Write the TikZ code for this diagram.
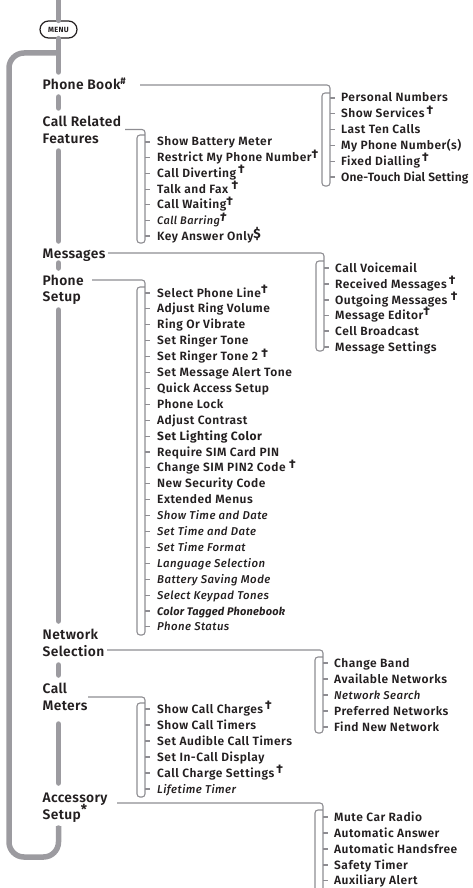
\documentclass[tikz,border=0pt]{standalone}
\usepackage{fontspec}
\setmainfont{Fira Sans}[UprightFont={* SemiBold}, ItalicFont={* Medium Italic}, BoldFont={* Bold}, BoldItalicFont={* Bold Italic}, LetterSpace=4]
\definecolor{trunk}{HTML}{9C9BA0}
\definecolor{lne}{HTML}{8E8D92}
\definecolor{ink}{HTML}{231F20}
\newcommand\dg{\raisebox{0.3em}{\fontsize{12.5}{12}\selectfont\bfseries †}}
\tikzset{
 trunkline/.style={line width=5.5pt, draw=trunk, line cap=round},
 thinline/.style={line width=1.1pt, draw=lne},
 lbl/.style={anchor=base west, inner sep=0, font=\fontsize{13.8}{15}\selectfont\addfontfeature{LetterSpace=2.5}, text=ink},
 itm/.style={anchor=base west, inner sep=0, font=\fontsize{12}{13}\selectfont, text=ink},
 itl/.style={itm, font=\fontsize{11.4}{13}\selectfont\itshape},
 menubox/.style={draw=ink, line width=1.2pt, rounded corners=8.5pt, minimum width=37pt, minimum height=17pt, inner sep=0, font=\fontsize{7.5}{8}\selectfont\bfseries, text=ink},
}
% #1 start coord, #2 yc, #3 xl, #4 xr, #5 yt, #6 yb
\newcommand\brk[6]{\draw[thinline, rounded corners=3pt] (#1) -- (#4,#2) -- (#4,#6) -- (#3,#6) -- (#3,#5) -- (#4,#5);}
\begin{document}
\begin{tikzpicture}[x=1pt,y=-1pt]
\useasboundingbox (0,0) rectangle (473,888);
\clip (0,0) rectangle (473,888);
% trunk
\node[menubox] (menu) at (58.5,29.5) {MENU};
\draw[trunkline] (58.5,-5) -- (menu.north);
\draw[trunkline] (menu.south) -- (58.5,72);
\draw[trunkline, line cap=butt, rounded corners=15pt] (58.5,53) -- (9,53) -- (9,857) -- (58.5,857) -- (58.5,826);
\draw[trunkline] (58.5,97) -- (58.5,108);
\draw[trunkline] (58.5,151) -- (58.5,241);
\draw[trunkline] (58.5,263) -- (58.5,268);
\draw[trunkline] (58.5,310) -- (58.5,621);
\draw[trunkline] (58.5,665) -- (58.5,675);
\draw[trunkline] (58.5,724) -- (58.5,783);
\draw[trunkline] (58.5,828) -- (58.5,830);
% labels
\node[lbl] (pb) at (42.5,89.5) {Phone Book\textsuperscript{\bfseries\#}};
\node[lbl] (cr1) at (42.5,127) {Call Related};
\node[lbl] (cr2) at (42.5,143.5) {Features};
\node[lbl] (msg) at (42.5,258) {Messages};
\node[lbl] (ps1) at (42.5,285) {Phone};
\node[lbl] (ps2) at (42.5,301) {Setup};
\node[lbl] (ns1) at (42.5,639.5) {Network};
\node[lbl] (ns2) at (42.5,656) {Selection};
\node[lbl] (cm1) at (42.5,693.5) {Call};
\node[lbl] (cm2) at (42.5,710.5) {Meters};
\node[lbl] (as1) at (42.5,802) {Accessory};
\node[lbl] (as2) at (42.5,819) {Setup\raisebox{0.35em}{\bfseries *}};
% connector starts
\coordinate (pbc) at (140,85);
\coordinate (crc) at (125,129.5);
\coordinate (msgc) at (108,253);
\coordinate (psc) at (92,280);
\coordinate (nsc) at (107,650);
\coordinate (cmc) at (88,697);
\coordinate (asc) at (117,803);
% Phone Book submenu
\brk{pbc}{85}{322}{330}{93}{186}
\foreach \y/\t [count=\i] in {98/Personal Numbers, 113.8/Show Services\,\dg, 129.6/Last Ten Calls, 145.4/My Phone Number(s), 161.2/Fixed Dialling\,\dg, 177/{\addfontfeature{LetterSpace=1}One-Touch Dial Setting}}{
  \draw[thinline] (330,\y) -- (335,\y);
  \node[itm] (pb\i) at (341,\y+4) {\t};
}
% Call Related submenu
\brk{crc}{129.5}{137}{145}{135}{243}
\foreach \y in {142,157.7,173.4,189.1,204.8,220.5,236}{\draw[thinline] (145,\y) -- (150,\y);}
\node[itm] (cr-a) at (157,146) {Show Battery Meter};
\node[itm] (cr-b) at (157,161.7) {Restrict My Phone Number\dg};
\node[itm] (cr-c) at (157,177.4) {Call Diverting\,\dg};
\node[itm] (cr-d) at (157,193.1) {Talk and Fax \dg};
\node[itm] (cr-e) at (157,208.8) {Call Waiting\dg};
\node[itl] (cr-f) at (157,224.5) {\fontsize{11}{12}\selectfont Call Barring\dg};
\node[itm] (cr-g) at (157,240) {Key Answer Only\raisebox{0.1em}{\fontsize{13.5}{13}\selectfont\bfseries\$}};
% Messages submenu
\brk{msgc}{253}{316}{324}{261}{351}
\foreach \y/\t [count=\i] in {268/Call Voicemail, 284/Received Messages\,\dg, 300/Outgoing Messages \dg, 315.5/Message Editor\dg, 331/Cell Broadcast, 347/Message Settings}{
  \draw[thinline] (324,\y) -- (329,\y);
  \node[itm] (ms\i) at (335,\y+4) {\t};
}
% Phone Setup submenu
\brk{psc}{280}{137}{145}{287}{635}
\foreach \k in {0,...,21}{\draw[thinline] (145,293+15.9*\k) -- (150,293+15.9*\k);}
\foreach \t [count=\i from 0] in {Select Phone Line\dg, Adjust Ring Volume, Ring Or Vibrate, Set Ringer Tone, Set Ringer Tone 2 \dg, Set Message Alert Tone, Quick Access Setup, Phone Lock, Adjust Contrast, {\bfseries Set Lighting Color}, Require SIM Card PIN, Change SIM PIN2 Code \dg, New Security Code, Extended Menus}{
  \node[itm] (ps\i) at (157,297+15.9*\i) {\t};
}
\foreach \t [count=\i from 14] in {Show Time and Date, Set Time and Date, Set Time Format, Language Selection, Battery Saving Mode, Select Keypad Tones, {\bfseries\fontsize{11}{13}\selectfont\addfontfeature{LetterSpace=2}Color Tagged Phonebook}, Phone Status}{
  \node[itl] (ps\i) at (157,297+15.9*\i) {\t};
}
% Network Selection submenu
\brk{nsc}{650}{315}{323}{657}{733}
\foreach \y in {663,679,695,711,727}{\draw[thinline] (323,\y) -- (328,\y);}
\node[itm] (ns-a) at (334,667) {Change Band};
\node[itm] (ns-b) at (334,683) {Available Networks};
\node[itl] (ns-c) at (334,699) {Network Search};
\node[itm] (ns-d) at (334,715) {Preferred Networks};
\node[itm] (ns-e) at (334,731) {Find New Network};
% Call Meters submenu
\brk{cmc}{697}{137}{145}{703}{797}
\foreach \y in {709,725,741,757,773,789}{\draw[thinline] (145,\y) -- (150,\y);}
\node[itm] (cm-a) at (157,713) {Show Call Charges\,\dg};
\node[itm] (cm-b) at (157,729) {Show Call Timers};
\node[itm] (cm-c) at (157,745) {Set Audible Call Timers};
\node[itm] (cm-d) at (157,761) {Set In-Call Display};
\node[itm] (cm-e) at (157,777) {Call Charge Settings\,\dg};
\node[itl] (cm-f) at (157,793) {Lifetime Timer};
% Accessory Setup submenu
\brk{asc}{803}{315}{323}{810}{905}
\foreach \y/\t [count=\i] in {817/Mute Car Radio, 833/Automatic Answer, 849/Automatic Handsfree, 865/Safety Timer, 880.5/Auxiliary Alert}{
  \draw[thinline] (323,\y) -- (328,\y);
  \node[itm] (ac\i) at (334,\y+4) {\t};
}
\end{tikzpicture}
\end{document}
